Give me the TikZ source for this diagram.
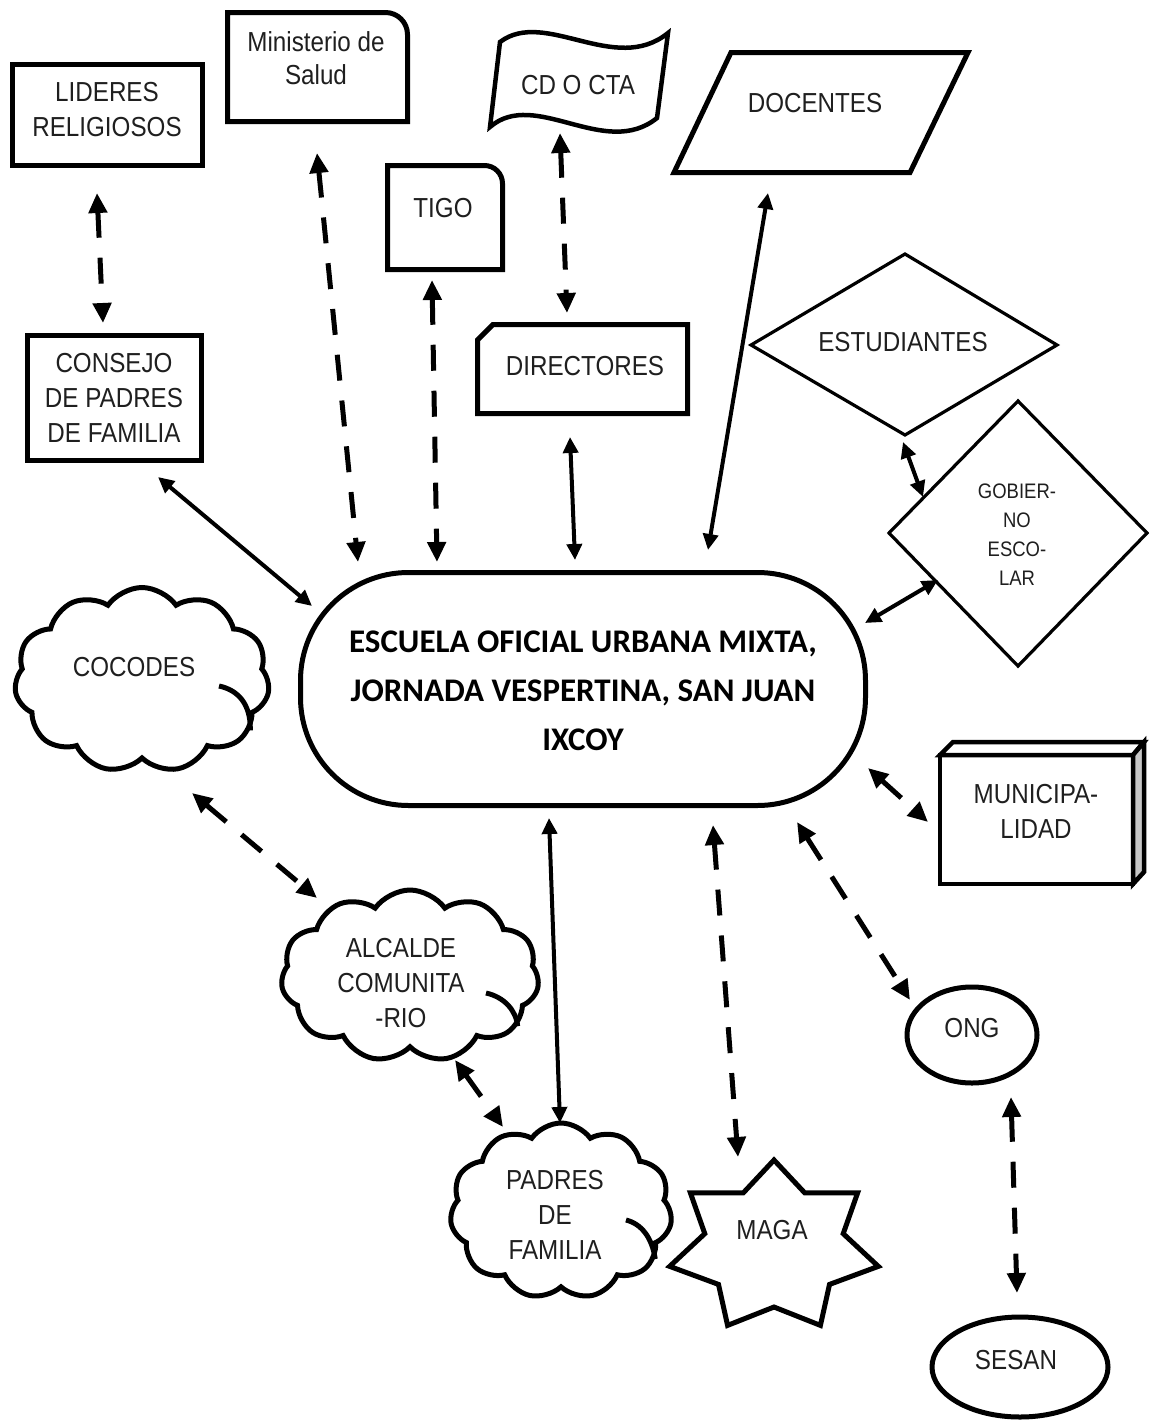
\documentclass[tikz,border=0pt]{standalone}
\usepackage{fontspec}
\setmainfont[FakeStretch=0.88]{Liberation Sans}
\newfontfamily\calfont{Carlito}
\usetikzlibrary{shapes.geometric,shapes.symbols,arrows.meta}
\tikzset{
  lbl/.style={align=center, font=\fontsize{27.5}{35}\selectfont, inner sep=0pt, text=black!88},
  lbls/.style={align=center, font=\fontsize{27.5}{33}\selectfont, inner sep=0pt, text=black!88},
  lblxs/.style={align=center, font=\fontsize{21}{29}\selectfont, inner sep=0pt, text=black!88},
  heavy/.style={draw, line width=5pt},
  lightline/.style={draw, line width=3.2pt},
  sol/.style={line width=4pt, {Triangle[length=16pt,width=15pt]}-{Triangle[length=16pt,width=15pt]}},
  dsh/.style={line width=5pt, dash pattern=on 26pt off 20pt, {Triangle[length=20pt,width=18pt]}-{Triangle[length=20pt,width=18pt]}},
  puff/.style={cloud, draw, line width=5pt, cloud puffs=11, cloud puff arc=110, aspect=1.4, inner sep=0pt},
  oval/.style={ellipse, draw, line width=5pt, inner sep=0pt},
  curl/.style={line width=5pt},
}
\begin{document}
\begin{tikzpicture}[x=1pt,y=-1pt]
\useasboundingbox (0,0) rectangle (1152,1427);
\fill[white] (0,0) rectangle (1152,1427);

% LIDERES RELIGIOSOS
\draw[heavy] (12.5,64.5) rectangle (202.5,165.5);
\node[lbl] (lid) at (107,110) {LIDERES\\RELIGIOSOS};

% Ministerio de Salud
\draw[heavy] (227.5,121.5) -- (227.5,12.5) -- (385.5,12.5) arc[start angle=90, end angle=0, radius=22pt] -- (407.5,121.5) -- cycle;
\node[lbls] (min) at (316,58.5) {Ministerio de\\Salud};

% TIGO
\draw[heavy] (387.5,269.5) -- (387.5,165.5) -- (484.5,165.5) arc[start angle=90, end angle=0, radius=18pt] -- (502.5,269.5) -- cycle;
\node[lbls] (tigo) at (443,208) {TIGO};

% CD O CTA flag
\draw[line width=4.5pt, line join=miter] (500,42) .. controls (545,8) and (615,76) .. (668,33)
  -- (657,118) .. controls (605,160) and (535,88) .. (490,127) -- cycle;
\node[lbls] (cd) at (578,85) {CD O CTA};

% DOCENTES
\draw[heavy] (731,52.5) -- (968,52.5) -- (910,172.5) -- (674,172.5) -- cycle;
\node[lbls] (doc) at (815,103) {DOCENTES};

% CONSEJO
\draw[heavy] (27.5,335.5) rectangle (201.5,460.5);
\node[lbl] (con) at (114,398) {CONSEJO\\DE PADRES\\DE FAMILIA};

% DIRECTORES
\draw[heavy] (477.5,413.5) -- (477.5,340) -- (493,324.5) -- (687.5,324.5) -- (687.5,413.5) -- cycle;
\node[lbl] (dir) at (585,366) {DIRECTORES};

% ESTUDIANTES
\draw[lightline] (751,345) -- (905,254) -- (1057,345) -- (905,435) -- cycle;
\node[lbls] (est) at (903,342) {ESTUDIANTES};

% GOBIERNO ESCOLAR
\draw[lightline] (1018,401) -- (1147,533) -- (1018,666) -- (889,533) -- cycle;
\node[lblxs] (gob) at (1017,535) {GOBIER-\\NO\\ESCO-\\LAR};

% Central
\draw[heavy, rounded corners=108pt] (300.5,572.5) rectangle (865.5,805.5);
\node[align=center, inner sep=0pt, font=\calfont\bfseries\fontsize{33}{49}\selectfont] (esc) at (583,691)
  {ESCUELA OFICIAL URBANA MIXTA,\\JORNADA VESPERTINA, SAN JUAN\\IXCOY};

% COCODES cloud
\node[puff, minimum width=255pt, minimum height=185pt] (cocc) at (142,680) {};
\draw[curl] (219,686) .. controls (238,690) and (251,704) .. (cocc.-25);
\node[lbl] (coco) at (134,667) {COCODES};

% MUNICIPALIDAD
\draw[line width=4.5pt, fill=white] (940,755) -- (953,742) -- (1144,742) -- (1133,755) -- cycle;
\draw[line width=4.5pt, fill=black!22] (1133,755) -- (1144,742) -- (1144,872) -- (1133,884) -- cycle;
\draw[line width=4.5pt] (940,755) rectangle (1133,884);
\node[lbl] (mun) at (1036,811) {MUNICIPA-\\LIDAD};

% ALCALDE cloud
\node[puff, minimum width=258pt, minimum height=172pt] (alcc) at (410,976) {};
\draw[curl] (486,993) .. controls (504,997) and (516,1010) .. (alcc.-25);
\node[lbl] (alc) at (401,983) {ALCALDE\\COMUNITA\\-RIO};

% PADRES DE FAMILIA cloud
\node[puff, minimum width=222pt, minimum height=176pt] (padc) at (561,1211) {};
\draw[curl] (626,1220) .. controls (642,1224) and (652,1238) .. (padc.-27);
\node[lbl] (pad) at (555,1215) {PADRES\\DE\\FAMILIA};

% MAGA star
\draw[line width=5pt, line join=miter] (774,1160)
  \foreach \k in {0,...,6} {
    -- ({774+71*cos(90-(\k+0.5)*360/7)},{1247-60*sin(90-(\k+0.5)*360/7)})
    -- ({774+107*cos(90-(\k+1)*360/7)},{1247-87*sin(90-(\k+1)*360/7)})
  } -- cycle;
\node[lbl] (maga) at (772,1230) {MAGA};

% ONG, SESAN
\node[oval, minimum width=130pt, minimum height=96pt] (ongc) at (972,1035) {};
\node[lbl] (ong) at (972,1028) {ONG};
\node[oval, minimum width=176pt, minimum height=100pt] (sesc) at (1020,1367) {};
\node[lbl] (ses) at (1016,1360) {SESAN};

% connector end points
\coordinate (lid-b) at (97,193);   \coordinate (con-t) at (103,323);
\coordinate (min-b) at (317,153);  \coordinate (esc-1) at (358,562);
\coordinate (tigo-b) at (432,280); \coordinate (esc-2) at (437,562);
\coordinate (cd-b) at (560,133);   \coordinate (dir-t) at (567,313);
\coordinate (dir-b) at (570,437);  \coordinate (esc-3) at (575,560);
\coordinate (doc-b) at (768,193);  \coordinate (esc-4) at (708,550);
\coordinate (con-b) at (158,477);  \coordinate (esc-5) at (312,606);
\coordinate (est-b) at (903,442);  \coordinate (gob-t) at (923,497);
\coordinate (gob-l) at (938,580);  \coordinate (esc-6) at (865,623);
\coordinate (coco-b) at (192,793); \coordinate (alc-t) at (317,898);
\coordinate (esc-7) at (868,768);  \coordinate (mun-l) at (928,822);
\coordinate (esc-8) at (549,818);  \coordinate (pad-t) at (560,1123);
\coordinate (alc-b) at (455,1060); \coordinate (pad-l) at (503,1127);
\coordinate (esc-9) at (713,825);  \coordinate (maga-t) at (738,1157);
\coordinate (esc-10) at (797,822); \coordinate (ong-t) at (910,1000);
\coordinate (ong-b) at (1011,1097); \coordinate (ses-t) at (1017,1293);

\draw[dsh] (lid-b) -- (con-t);
\draw[dsh] (min-b) -- (esc-1);
\draw[dsh] (tigo-b) -- (esc-2);
\draw[dsh] (cd-b) -- (dir-t);
\draw[sol] (dir-b) -- (esc-3);
\draw[sol] (doc-b) -- (esc-4);
\draw[sol] (con-b) -- (esc-5);
\draw[sol] (est-b) -- (gob-t);
\draw[sol] (gob-l) -- (esc-6);
\draw[dsh] (coco-b) -- (alc-t);
\draw[dsh] (esc-7) -- (mun-l);
\draw[sol] (esc-8) -- (pad-t);
\draw[dsh] (alc-b) -- (pad-l);
\draw[dsh] (esc-9) -- (maga-t);
\draw[dsh] (esc-10) -- (ong-t);
\draw[dsh] (ong-b) -- (ses-t);
\end{tikzpicture}
\end{document}
